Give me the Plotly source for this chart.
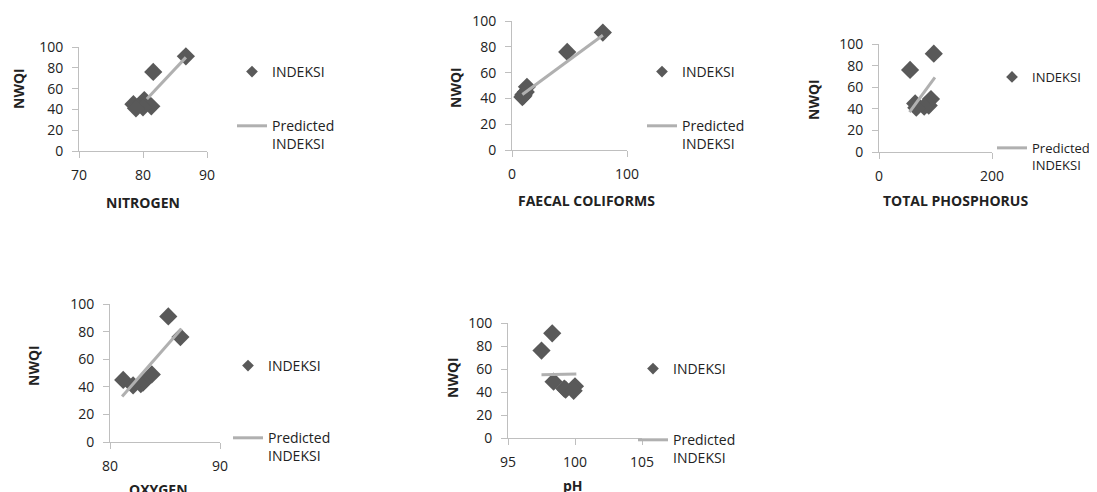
import plotly.graph_objects as go

W, H = 1105, 492
OFF = 8  # page body margin of the rendered html

# ---- data ----
NWQI = [91, 76, 49, 45, 43, 42, 41]
nitrogen = [86.7, 81.6, 80.2, 78.5, 81.3, 80.0, 78.9]
faecal = [79, 48, 13, 12, 10, 10, 9]
phosphorus = [97, 55, 92, 64, 88, 80, 66]
oxygen = [85.3, 86.4, 83.8, 81.2, 83.0, 82.8, 82.1]
ph = [98.3, 97.5, 98.4, 100.0, 99.2, 99.3, 99.9]

pred_nitrogen_x, pred_nitrogen_y = [80.6, 86.7], [50, 90]
pred_faecal_x, pred_faecal_y = [9, 79], [43, 89]
pred_phos_x, pred_phos_y = [54, 99], [37, 69]
pred_oxy_x, pred_oxy_y = [81.1, 86.5], [33, 82]
pred_ph_x, pred_ph_y = [97.5, 100.1], [55, 55.7]

x_titles = ["NITROGEN", "FAECAL COLIFORMS", "TOTAL PHOSPHORUS", "OXYGEN", "pH"]
x_ranges = [[70, 90], [0, 100], [0, 200], [80, 90], [95, 105]]
x_dticks = [10, 100, 200, 10, 5]
y_title = "NWQI"
series_name = "INDEKSI"
pred_name = "Predicted<br>INDEKSI"

panels = [
    (nitrogen, pred_nitrogen_x, pred_nitrogen_y),
    (faecal, pred_faecal_x, pred_faecal_y),
    (phosphorus, pred_phos_x, pred_phos_y),
    (oxygen, pred_oxy_x, pred_oxy_y),
    (ph, pred_ph_x, pred_ph_y),
]

# ---- layout geometry (pixels, as seen in the reference) ----
boxes = [  # x0, x1, y0(top), y1(bottom)
    (79, 207, 47, 151),
    (512, 627, 21, 150),
    (879, 992, 44, 152),
    (110, 220, 304, 442),
    (508, 642, 323, 438),
]
ylab_pos = [(18, 89), (455, 88), (813, 100), (33, 366), (452, 378)]
xlab_pos = [(143, 202), (586, 200), (955, 200), (158, 489), (573, 485)]
legend_pos = [(232, 56), (642, 56), (992, 62), (228, 350), (633, 353)]
legend_gaps = [33, 33, 51, 51, 50]
legend_fonts = [14, 14, 13, 14, 14]


def px(v):
    return (v - OFF) / W


def py(v):
    return 1 - (v - OFF) / H


FONT = "'Open Sans', Lato, Arial, sans-serif"
MARKER = "#595959"
LINEC = "#B0B0B0"
AXISC = "#BFBFBF"
TXT = "#222222"

fig = go.Figure()
layout = dict(
    width=W, height=H,
    margin=dict(l=0, r=0, t=0, b=0, autoexpand=False),
    paper_bgcolor="white", plot_bgcolor="white",
    font=dict(family=FONT, size=14, color=TXT),
    showlegend=True,
)
annotations = []

for i, ((xs, pxs, pys), (x0, x1, y0, y1)) in enumerate(zip(panels, boxes)):
    n = i + 1
    xa = "x" if n == 1 else f"x{n}"
    ya = "y" if n == 1 else f"y{n}"
    lg = "legend" if n == 1 else f"legend{n}"
    # data markers
    fig.add_trace(go.Scatter(
        x=xs, y=NWQI, mode="markers", name=series_name, showlegend=False,
        marker=dict(symbol="diamond", size=14, color=MARKER),
        xaxis=xa, yaxis=ya,
    ))
    # legend entry for the markers (smaller symbol, like the reference legend)
    fig.add_trace(go.Scatter(
        x=[None], y=[None], mode="markers", name=series_name,
        marker=dict(symbol="diamond", size=9, color=MARKER),
        xaxis=xa, yaxis=ya, legend=lg, legendgroup=f"a{n}",
    ))
    fig.add_trace(go.Scatter(
        x=pxs, y=pys, mode="lines", name=pred_name,
        line=dict(color=LINEC, width=3),
        xaxis=xa, yaxis=ya, legend=lg, legendgroup=f"b{n}",
    ))
    layout[f"xaxis{'' if n == 1 else n}"] = dict(
        domain=[px(x0), px(x1)], anchor=ya, range=x_ranges[i],
        dtick=x_dticks[i], tick0=x_ranges[i][0],
        showline=True, linecolor=AXISC, linewidth=1,
        ticks="outside", ticklen=6, tickcolor=AXISC,
        showgrid=False, zeroline=False, ticklabelstandoff=5,
        tickfont=dict(size=14, color=TXT),
    )
    layout[f"yaxis{'' if n == 1 else n}"] = dict(
        domain=[py(y1), py(y0)], anchor=xa, range=[0, 100],
        dtick=20, showline=True, linecolor=AXISC, linewidth=1,
        ticks="outside", ticklen=6, tickcolor=AXISC,
        showgrid=False, zeroline=False, ticklabelstandoff=6,
        tickfont=dict(size=14, color=TXT),
    )
    lx, ly = legend_pos[i]
    layout[lg] = dict(
        x=px(lx), y=py(ly), xanchor="left", yanchor="top",
        bgcolor="rgba(0,0,0,0)",
        font=dict(size=legend_fonts[i], family=FONT, color=TXT),
        traceorder="grouped", tracegroupgap=legend_gaps[i], valign="top",
        itemsizing="trace",
    )
    yx, yy = ylab_pos[i]
    annotations.append(dict(
        text=f"<b>{y_title}</b>", x=px(yx), y=py(yy), xref="paper", yref="paper",
        showarrow=False, textangle=-90, font=dict(size=14, family=FONT, color=TXT),
        xanchor="center", yanchor="middle",
    ))
    xx, xy = xlab_pos[i]
    annotations.append(dict(
        text=f"<b>{x_titles[i]}</b>", x=px(xx), y=py(xy), xref="paper", yref="paper",
        showarrow=False, font=dict(size=14, family=FONT, color=TXT),
        xanchor="center", yanchor="middle",
    ))

layout["annotations"] = annotations
fig.update_layout(**layout)
fig.write_html("out.html")
